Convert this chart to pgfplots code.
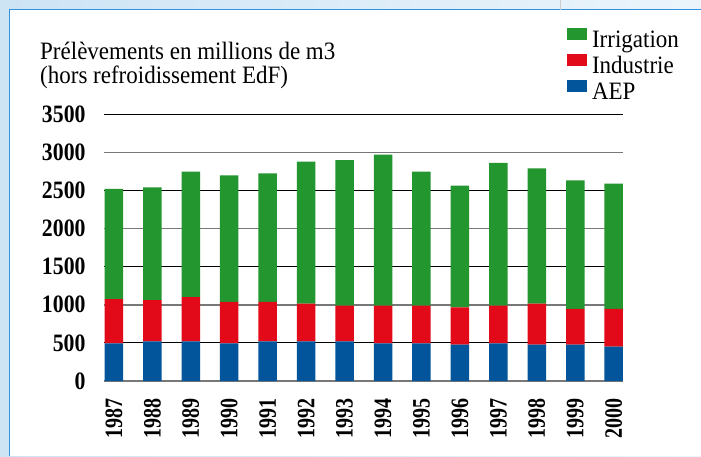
\documentclass[border=0pt]{standalone}
\usepackage{fontspec}
\setmainfont{Liberation Serif}
\newfontfamily\txtfont[FakeStretch=0.92]{Liberation Serif}
\newfontfamily\yfont[FakeStretch=0.87]{Liberation Serif}
\newfontfamily\xfont[FakeStretch=0.80]{Liberation Serif}
\usepackage{pgfplots}
\pgfplotsset{compat=1.18}
\usepackage{pgfplotstable}
\definecolor{cgreen}{RGB}{35,150,48}
\definecolor{cred}{RGB}{226,10,25}
\definecolor{cblue}{RGB}{2,85,155}
\definecolor{frameblue}{RGB}{47,147,224}
\definecolor{paleblue}{RGB}{205,228,245}
\definecolor{gridgray}{RGB}{120,120,120}
\pgfplotstableread{
x AEP Industrie Irrigation
0 495 581 1444
1 520 543 1479
2 520 582 1645
3 495 542 1662
4 520 517 1688
5 520 495 1863
6 520 469 1911
7 495 494 1981
8 495 494 1758
9 477 490 1597
10 495 494 1872
11 477 538 1775
12 477 468 1688
13 451 494 1645
}\datatable
\begin{document}
\begin{tikzpicture}
\shade[left color=paleblue, right color=paleblue!40!white] (0pt,0pt) rectangle (701pt,456pt);
\fill[white] (9pt,0pt) rectangle (701pt,446pt);
\draw[frameblue, line width=1pt] (9pt,0pt) -- (9pt,446pt) -- (701pt,446pt);
\draw[gray!40, line width=0.8pt] (560pt,446pt) -- (560pt,456pt);
\begin{axis}[
  at={(104.3pt,75pt)}, anchor=south west,
  width=519pt, height=266.7pt, scale only axis,
  ybar stacked, bar width=18.5pt,
  xmin=-0.25, xmax=13.25, ymin=0, ymax=3500,
  xtick={0,...,13},
  xticklabels={1987,1988,1989,1990,1991,1992,1993,1994,1995,1996,1997,1998,1999,2000},
  ytick={500,1500,2500,3500},
  extra y ticks={0,1000,2000,3000},
  extra y tick style={major grid style={color=gridgray, line width=1.6pt}},
  ymajorgrids=true,
  major grid style={black, line width=0.9pt},
  axis line style={draw=none},
  major tick length=0pt,
  tick style={draw=none},
  scaled y ticks=false,
  /pgf/number format/assume math mode=true,
  /pgf/number format/1000 sep={},
  yticklabel style={inner sep=0pt, font=\yfont\bfseries\fontsize{25}{25}\selectfont},
  yticklabel shift=18.6pt,
  xticklabel style={rotate=90, anchor=east, inner sep=0pt, font=\xfont\bfseries\fontsize{25}{25}\selectfont},
  xticklabel shift=17pt,
  reverse legend,
  legend cell align=left,
  legend style={at={(0.891,1.3236)}, anchor=north west, draw=none, fill=none,
    inner sep=0pt, outer sep=0pt, row sep=0pt,
    nodes={inner sep=0pt, text height=17pt, text depth=6.6pt, font=\txtfont\fontsize{25}{25}\selectfont},
    /tikz/every odd column/.append style={column sep=5.3pt}},
  legend image code/.code={\fill[#1] (0pt,2.3pt) rectangle (20pt,14.3pt);},
]
\addplot[fill=cblue, draw=none] table[x=x, y=AEP] {\datatable};
\addlegendentry{AEP}
\addplot[fill=cred, draw=none] table[x=x, y=Industrie] {\datatable};
\addlegendentry{Industrie}
\addplot[fill=cgreen, draw=none] table[x=x, y=Irrigation] {\datatable};
\addlegendentry{Irrigation}
\end{axis}
\node[anchor=base west, inner sep=0pt, font=\txtfont\fontsize{25}{25}\selectfont] at (40pt,396pt) {Prélèvements en millions de m3};
\node[anchor=base west, inner sep=0pt, font=\txtfont\fontsize{25}{25}\selectfont] at (40pt,372.5pt) {(hors refroidissement EdF)};
\pgfresetboundingbox
\path[use as bounding box] (0pt,0pt) rectangle (701pt,456pt);
\end{tikzpicture}
\end{document}
